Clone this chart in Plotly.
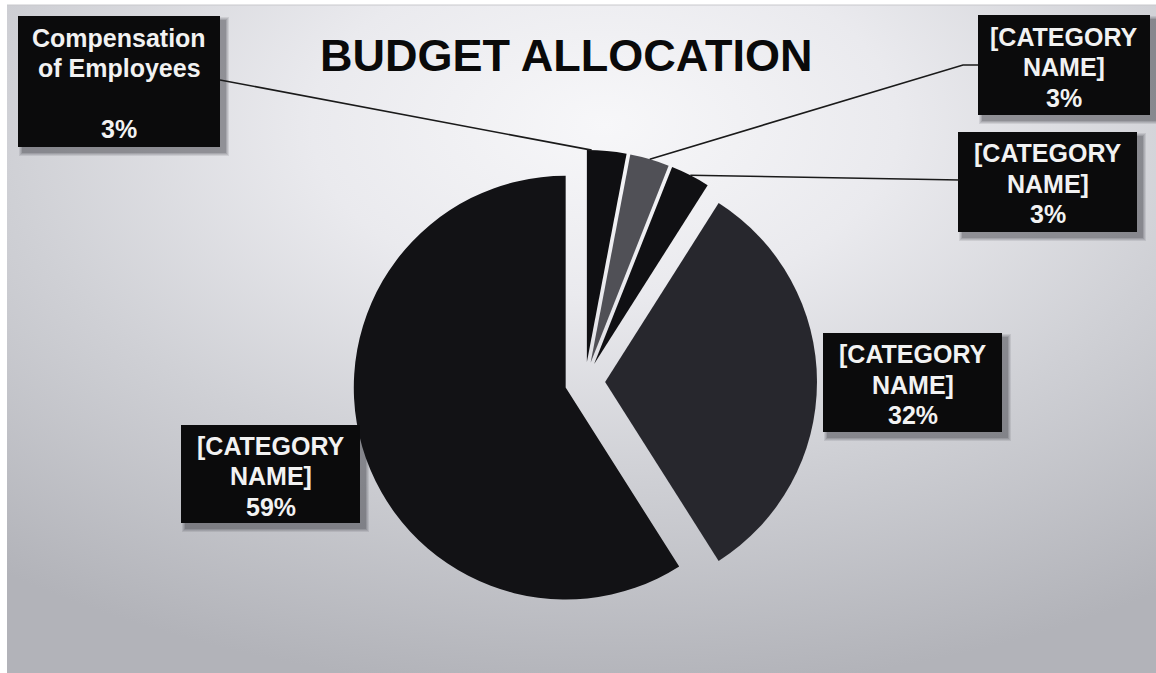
import base64
import math
import plotly.graph_objects as go

# --- data -----------------------------------------------------------------
categories = ["Compensation of Employees", "[CATEGORY NAME]", "[CATEGORY NAME]",
              "[CATEGORY NAME]", "[CATEGORY NAME]"]
values = [3, 3, 3, 32, 59]
label_lines = [["Compensation", "of Employees", ""],
               ["[CATEGORY", "NAME]"],
               ["[CATEGORY", "NAME]"],
               ["[CATEGORY", "NAME]"],
               ["[CATEGORY", "NAME]"]]
title_text = "BUDGET ALLOCATION"

# --- styling / layout -------------------------------------------------------
W, H = 1156, 673
slice_colors = ["#0f0f12", "#505056", "#101013", "#27272d", "#121215"]
pull = 0.095
dom_x = [0.30536, 0.70675]
dom_y = [0.08767, 0.77714]
label_font = 25
line_gap = 30.5

# label boxes in pixels: (x0, y0, x1, y1)
boxes = [(18, 16, 220, 147),
         (978, 15, 1150, 115),
         (958, 132, 1137, 232),
         (823, 333, 1002, 432),
         (181, 425, 360, 523)]
# leader line: box-side points (pixels) and where on the slice arc it lands
leader_pts = [[(220, 80)],
              [(978, 65), (963, 65)],
              [(960, 180)],
              None, None]
leader_frac = [0.12, 0.5, 0.5, None, None]


def px(x, y):
    return x / W, 1 - y / H


# pie geometry the way plotly lays it out
box_w = W * (dom_x[1] - dom_x[0])
box_h = H * (dom_y[1] - dom_y[0])
r = min(box_w, box_h) / (2 + 2 * pull)
cx = W * (dom_x[0] + dom_x[1]) / 2
cy = H * (1 - dom_y[0]) - box_h / 2
total = sum(values)

fig = go.Figure(go.Pie(
    values=values,
    labels=list(range(len(values))),
    sort=False,
    direction="clockwise",
    rotation=0,
    pull=[pull] * len(values),
    marker=dict(colors=slice_colors, line=dict(width=0)),
    textinfo="none",
    hoverinfo="skip",
    showlegend=False,
    domain=dict(x=dom_x, y=dom_y),
))

# background panel with a soft radial gradient
svg = f"""<svg xmlns='http://www.w3.org/2000/svg' width='{W}' height='{H}' viewBox='0 0 {W} {H}' preserveAspectRatio='none'>
<defs><radialGradient id='g' cx='0.52' cy='0.18' r='0.85' fx='0.52' fy='0.18'>
<stop offset='0' stop-color='#f7f7f9'/>
<stop offset='0.3' stop-color='#eaeaee'/>
<stop offset='0.62' stop-color='#cfd0d5'/>
<stop offset='1' stop-color='#b2b3b9'/>
</radialGradient></defs>
<rect width='{W}' height='{H}' fill='url(#g)'/></svg>"""
bg_src = "data:image/svg+xml;base64," + base64.b64encode(svg.encode()).decode()

shapes = []
annotations = []

# thin rule along the top of the panel
shapes.append(dict(type="line", xref="paper", yref="paper",
                   x0=7 / W, x1=1, y0=1 - 5 / H, y1=1 - 5 / H,
                   line=dict(color="#c8c8cc", width=1), layer="below"))

start = 0.0
for i, v in enumerate(values):
    pct = round(100 * v / total)
    x0, y0, x1, y1 = boxes[i]
    # blurred drop shadow
    for k, a in zip(range(4), [0.10, 0.11, 0.13, 0.18]):
        grow = 4 - k
        sx0, sy0 = px(x0 + 5 - grow, y0 + 5 - grow)
        sx1, sy1 = px(x1 + 5 + grow, y1 + 5 + grow)
        shapes.append(dict(type="rect", xref="paper", yref="paper",
                           x0=sx0, y0=sy0, x1=sx1, y1=sy1,
                           fillcolor=f"rgba(40,40,45,{a})", line=dict(width=0),
                           layer="below"))
    bx0, by0 = px(x0, y0)
    bx1, by1 = px(x1, y1)
    shapes.append(dict(type="rect", xref="paper", yref="paper",
                       x0=bx0, y0=by0, x1=bx1, y1=by1,
                       fillcolor="#0b0b0c", line=dict(width=0), layer="above"))
    lines = label_lines[i] + [f"{pct}%"]
    mid_y = (y0 + y1) / 2 + 2
    for j, ln in enumerate(lines):
        if not ln:
            continue
        ly = mid_y + (j - (len(lines) - 1) / 2) * line_gap
        tx, ty = px((x0 + x1) / 2, ly)
        annotations.append(dict(x=tx, y=ty, xref="paper", yref="paper",
                                text=f"<b>{ln}</b>", showarrow=False,
                                xanchor="center", yanchor="middle",
                                font=dict(family="Liberation Sans", size=label_font,
                                          color="#f2f2f2")))

    # leader line from the label box to the slice rim
    if leader_pts[i] is not None:
        mid = math.radians(360 * (start + v / 2) / total)
        th = math.radians(360 * (start + leader_frac[i] * v) / total)
        ax = cx + pull * r * math.sin(mid) + r * math.sin(th)
        ay = cy - pull * r * math.cos(mid) - r * math.cos(th)
        pts = leader_pts[i] + [(ax, ay)]
        path = "M " + " L ".join(f"{px(x, y)[0]},{px(x, y)[1]}" for x, y in pts)
        shapes.append(dict(type="path", xref="paper", yref="paper", path=path,
                           line=dict(color="#1a1a1a", width=1.6), layer="above"))
    start += v

tx, ty = px(566, 55)
annotations.append(dict(x=tx, y=ty, xref="paper", yref="paper",
                        text=f"<b>{title_text}</b>", showarrow=False,
                        xanchor="center", yanchor="middle",
                        font=dict(family="Liberation Sans", size=45, color="#0a0a0a")))

fig.update_layout(
    width=W, height=H,
    margin=dict(l=0, r=0, t=0, b=0),
    paper_bgcolor="#ffffff",
    images=[dict(source=bg_src, xref="paper", yref="paper",
                 x=7 / W, y=1 - 5 / H, sizex=1 - 7 / W, sizey=1 - 5 / H,
                 xanchor="left", yanchor="top", sizing="stretch", layer="below")],
    shapes=shapes,
    annotations=annotations,
)

fig.write_html("out.html")
